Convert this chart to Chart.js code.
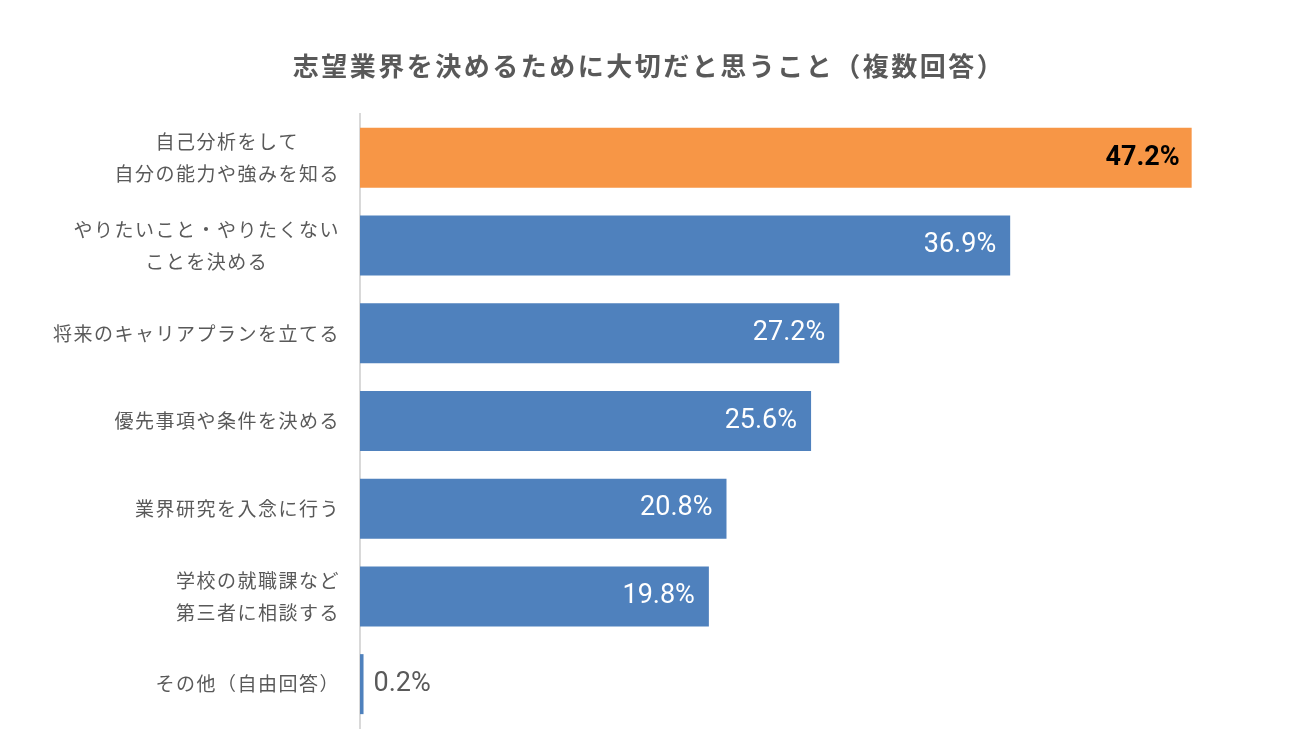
<!DOCTYPE html>
<html lang="ja">
<head>
<meta charset="utf-8">
<script src="https://cdn.jsdelivr.net/npm/chart.js@4"></script>
<style>
  html, body { margin: 0; padding: 0; background: #fff; }
  #wrap { width: 1300px; height: 754px; }
</style>
</head>
<body>
<div id="wrap"><canvas id="chart" width="1300" height="754"></canvas></div>
<script>
// 志望業界を決めるために大切だと思うこと（複数回答）

const TITLE = '志望業界を決めるために大切だと思うこと（複数回答）';
const CATEGORIES = [
  ['自己分析をして', '自分の能力や強みを知る'],
  ['やりたいこと・やりたくない', 'ことを決める'],
  ['将来のキャリアプランを立てる'],
  ['優先事項や条件を決める'],
  ['業界研究を入念に行う'],
  ['学校の就職課など', '第三者に相談する'],
  ['その他（自由回答）'],
];
const VALUES = [47.2, 36.9, 27.2, 25.6, 20.8, 19.8, 0.2];

const ORANGE = '#f79646';
const BLUE = '#4f81bd';
const TEXT_GRAY = '#595959';
const JP_FONT = '"Noto Sans CJK JP", "Noto Sans", sans-serif';
const NUM_FONT = 'Roboto, "Noto Sans", sans-serif';

// title drawn with letter spacing like the original
const titlePlugin = {
  id: 'spacedTitle',
  afterDraw(chart) {
    const ctx = chart.ctx;
    ctx.save();
    ctx.font = `bold 26px ${JP_FONT}`;
    ctx.letterSpacing = '2.5px';
    ctx.fillStyle = TEXT_GRAY;
    ctx.textAlign = 'center';
    ctx.textBaseline = 'middle';
    ctx.fillText(TITLE, 649, 66);
    ctx.restore();
  },
};

// category labels: block right-aligned to the axis, lines centered within the block
const catLabelPlugin = {
  id: 'catLabels',
  afterDraw(chart) {
    const ctx = chart.ctx;
    const yScale = chart.scales.y;
    const lineH = 32;
    ctx.save();
    ctx.font = `19px ${JP_FONT}`;
    ctx.letterSpacing = '1.5px';
    ctx.fillStyle = TEXT_GRAY;
    ctx.textAlign = 'center';
    ctx.textBaseline = 'middle';
    CATEGORIES.forEach((lines, i) => {
      const y = yScale.getPixelForTick(i);
      const w = Math.max(...lines.map(l => ctx.measureText(l).width));
      const cx = 340 - w / 2;
      const top = y - (lines.length - 1) * lineH / 2;
      lines.forEach((l, j) => ctx.fillText(l, cx, top + j * lineH));
    });
    ctx.restore();
  },
};

// value labels inside bar ends (outside for tiny bars)
const valueLabelPlugin = {
  id: 'valueLabels',
  afterDatasetsDraw(chart) {
    const ctx = chart.ctx;
    const meta = chart.getDatasetMeta(0);
    ctx.save();
    ctx.textBaseline = 'middle';
    meta.data.forEach((bar, i) => {
      const txt = VALUES[i].toFixed(1) + '%';
      if (VALUES[i] < 3) {
        ctx.font = `27px ${NUM_FONT}`;
        ctx.fillStyle = TEXT_GRAY;
        ctx.textAlign = 'left';
        ctx.fillText(txt, bar.x + 10, bar.y);
      } else if (i === 0) {
        ctx.font = `bold 27px ${NUM_FONT}`;
        ctx.fillStyle = '#000';
        ctx.textAlign = 'right';
        ctx.fillText(txt, bar.x - 12, bar.y);
      } else {
        ctx.font = `27px ${NUM_FONT}`;
        ctx.fillStyle = '#fff';
        ctx.textAlign = 'right';
        ctx.fillText(txt, bar.x - 14, bar.y);
      }
    });
    ctx.restore();
  },
};

new Chart(document.getElementById('chart'), {
  type: 'bar',
  data: {
    labels: CATEGORIES.map(l => l.join(' ')),
    datasets: [{
      data: VALUES,
      backgroundColor: VALUES.map((v, i) => i === 0 ? ORANGE : BLUE),
      borderWidth: 0,
      categoryPercentage: 1,
      barPercentage: 0.684,
    }],
  },
  options: {
    indexAxis: 'y',
    responsive: false,
    animation: false,
    layout: { padding: { top: 114, bottom: 26, left: 0, right: 59 } },
    plugins: {
      legend: { display: false },
      title: { display: false },
      tooltip: { enabled: false },
    },
    scales: {
      x: { display: false, min: 0, max: 50 },
      y: {
        grid: { display: false },
        border: { display: true, color: '#d9d9d9', width: 2 },
        ticks: { display: false },
        afterFit: s => { s.width = 360; },
      },
    },
  },
  plugins: [titlePlugin, catLabelPlugin, valueLabelPlugin],
});
</script>
</body>
</html>
